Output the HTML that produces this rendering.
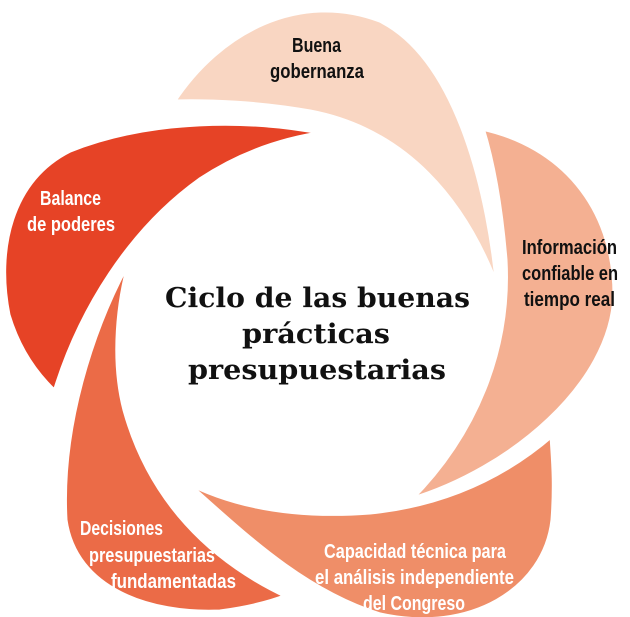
<!DOCTYPE html>
<html><head><meta charset="utf-8"><style>
html,body{margin:0;padding:0;background:#fff;}
svg{display:block;}
.l{font-family:"Liberation Sans",sans-serif;font-weight:bold;font-size:20px;}
.c{font-family:"DejaVu Serif","Liberation Serif",serif;font-weight:bold;font-size:27px;fill:#111;}
</style></head><body>
<svg width="630" height="617" viewBox="0 0 630 617" xmlns="http://www.w3.org/2000/svg">
<g stroke="#fff" stroke-width="5" stroke-linejoin="round">
<path fill="#e64326" d="M325,133 C250,118 150,118 70,150 C10,180 -5,250 8,315 C20,355 40,378 55,392 C80,310 130,230 200,180 C245,150 290,138 325,133 Z"/>
<path fill="#eb6b47" d="M132,255 C90,330 60,430 65,520 C75,590 150,615 220,612 C250,608 272,602 287,596 C210,560 150,500 125,410 C112,360 118,300 132,255 Z"/>
<path fill="#f4b092" d="M482,128 C560,145 615,205 615,295 C612,385 510,470 410,500 C475,435 510,350 505,260 C500,200 492,160 482,128 Z"/>
<path fill="#ef8e68" d="M183,480 C240,530 300,590 380,615 C470,635 545,590 553,520 C556,480 553,455 552,435 C500,480 440,505 370,512 C290,518 230,505 183,480 Z"/>
<path fill="#f9d6c2" d="M173,102 C220,30 300,-10 380,20 C460,60 490,200 498,290 C465,200 405,130 310,112 C260,103 210,101 173,102 Z"/>
</g>
<g class="l" fill="#111">
<text x="292" y="52" textLength="49" lengthAdjust="spacingAndGlyphs">Buena</text>
<text x="270" y="78" textLength="94" lengthAdjust="spacingAndGlyphs">gobernanza</text>
<text x="522" y="254" textLength="95" lengthAdjust="spacingAndGlyphs">Información</text>
<text x="522" y="280" textLength="96" lengthAdjust="spacingAndGlyphs">confiable en</text>
<text x="524" y="306" textLength="91" lengthAdjust="spacingAndGlyphs">tiempo real</text>
</g>
<g class="l" fill="#fff">
<text x="40" y="205" textLength="61" lengthAdjust="spacingAndGlyphs">Balance</text>
<text x="27" y="231" textLength="88" lengthAdjust="spacingAndGlyphs">de poderes</text>
<text x="324" y="558" textLength="182" lengthAdjust="spacingAndGlyphs">Capacidad técnica para</text>
<text x="315" y="584" textLength="199" lengthAdjust="spacingAndGlyphs">el análisis independiente</text>
<text x="363" y="610" textLength="102" lengthAdjust="spacingAndGlyphs">del Congreso</text>
<text x="80" y="535" textLength="83" lengthAdjust="spacingAndGlyphs">Decisiones</text>
<text x="89" y="562" textLength="126" lengthAdjust="spacingAndGlyphs">presupuestarias</text>
<text x="111" y="588" textLength="125" lengthAdjust="spacingAndGlyphs">fundamentadas</text>
</g>
<g class="c">
<text x="165" y="307" textLength="305" lengthAdjust="spacingAndGlyphs">Ciclo de las buenas</text>
<text x="242" y="343" textLength="148" lengthAdjust="spacingAndGlyphs">prácticas</text>
<text x="188" y="379" textLength="258" lengthAdjust="spacingAndGlyphs">presupuestarias</text>
</g>
</svg>
</body></html>
